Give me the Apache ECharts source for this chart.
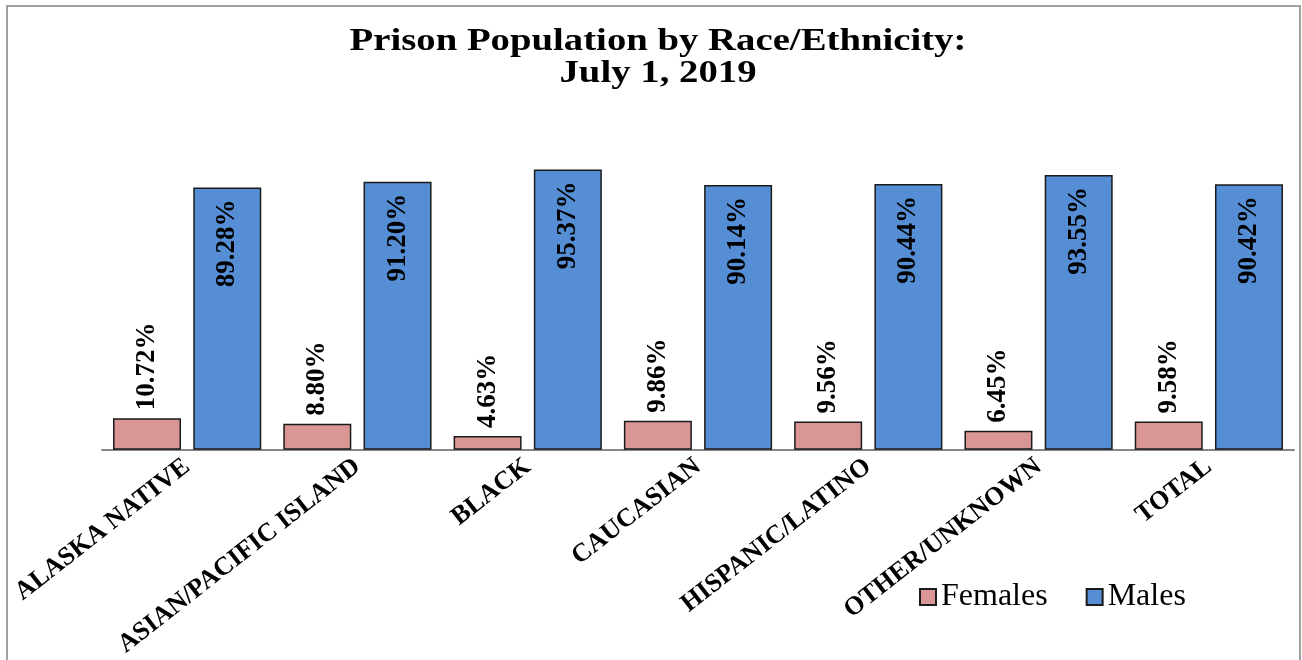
<!DOCTYPE html>
<html>
<head>
<meta charset="utf-8">
<script src="https://cdn.jsdelivr.net/npm/echarts@6/dist/echarts.min.js"></script>
<style>
html,body{margin:0;padding:0;background:#fff;}
#chart{width:1302px;height:660px;}
</style>
</head>
<body>
<div id="chart"></div>
<script>
const categories = ['ALASKA NATIVE','ASIAN/PACIFIC ISLAND','BLACK','CAUCASIAN','HISPANIC/LATINO','OTHER/UNKNOWN','TOTAL'];
const females = [10.72, 8.80, 4.63, 9.86, 9.56, 6.45, 9.58];
const males = [89.28, 91.20, 95.37, 90.14, 90.44, 93.55, 90.42];
const titleText = 'Prison Population by Race/Ethnicity:\nJuly 1, 2019';

const serif = '"Liberation Serif", "Times New Roman", serif';
const chart = echarts.init(document.getElementById('chart'));
const fmt = p => p.value.toFixed(2) + '%';
chart.setOption({
  backgroundColor: '#ffffff',
  animation: false,
  graphic: [{
    type: 'rect',
    shape: {x: 7, y: 6, width: 1293, height: 700},
    style: {fill: 'none', stroke: '#a0a0a0', lineWidth: 2},
    silent: true
  }, {
    type: 'text',
    x: 658,
    y: 26,
    scaleX: 1.25,
    silent: true,
    style: {
      text: titleText,
      font: 'bold 31px ' + serif,
      lineHeight: 32,
      fill: '#000',
      align: 'center',
      verticalAlign: 'top'
    }
  }],
  legend: {
    left: 914,
    top: 576,
    itemWidth: 16,
    itemHeight: 16,
    itemGap: 38,
    icon: 'rect',
    textStyle: {fontFamily: serif, fontSize: 32, color: '#000'},
    data: ['Females', 'Males']
  },
  grid: {left: 102, right: 8, top: 156, bottom: 210, containLabel: false},
  xAxis: {
    type: 'category',
    data: categories,
    axisLine: {lineStyle: {color: '#868686', width: 2}},
    axisTick: {show: false},
    axisLabel: {
      interval: 0,
      rotate: 38,
      margin: 14,
      fontFamily: serif,
      fontWeight: 'bold',
      fontSize: 26,
      color: '#000'
    }
  },
  yAxis: {
    type: 'value',
    min: 0,
    max: 100,
    show: false,
    splitLine: {show: false}
  },
  series: [
    {
      name: 'Females',
      type: 'bar',
      data: females,
      barWidth: 68,
      barGap: '18%',
      itemStyle: {color: '#d99694', borderColor: '#1a1a1a', borderWidth: 1.5},
      label: {
        show: true,
        position: 'top',
        rotate: 90,
        align: 'left',
        verticalAlign: 'middle',
        distance: 8,
        formatter: fmt,
        fontFamily: serif,
        fontWeight: 'bold',
        fontSize: 27,
        color: '#000'
      }
    },
    {
      name: 'Males',
      type: 'bar',
      data: males,
      barWidth: 68,
      itemStyle: {color: '#558ed5', borderColor: '#1a1a1a', borderWidth: 1.5},
      label: {
        show: true,
        position: 'insideTop',
        rotate: 90,
        align: 'right',
        verticalAlign: 'middle',
        distance: 12,
        formatter: fmt,
        fontFamily: serif,
        fontWeight: 'bold',
        fontSize: 27,
        color: '#000'
      }
    }
  ]
});
</script>
</body>
</html>
